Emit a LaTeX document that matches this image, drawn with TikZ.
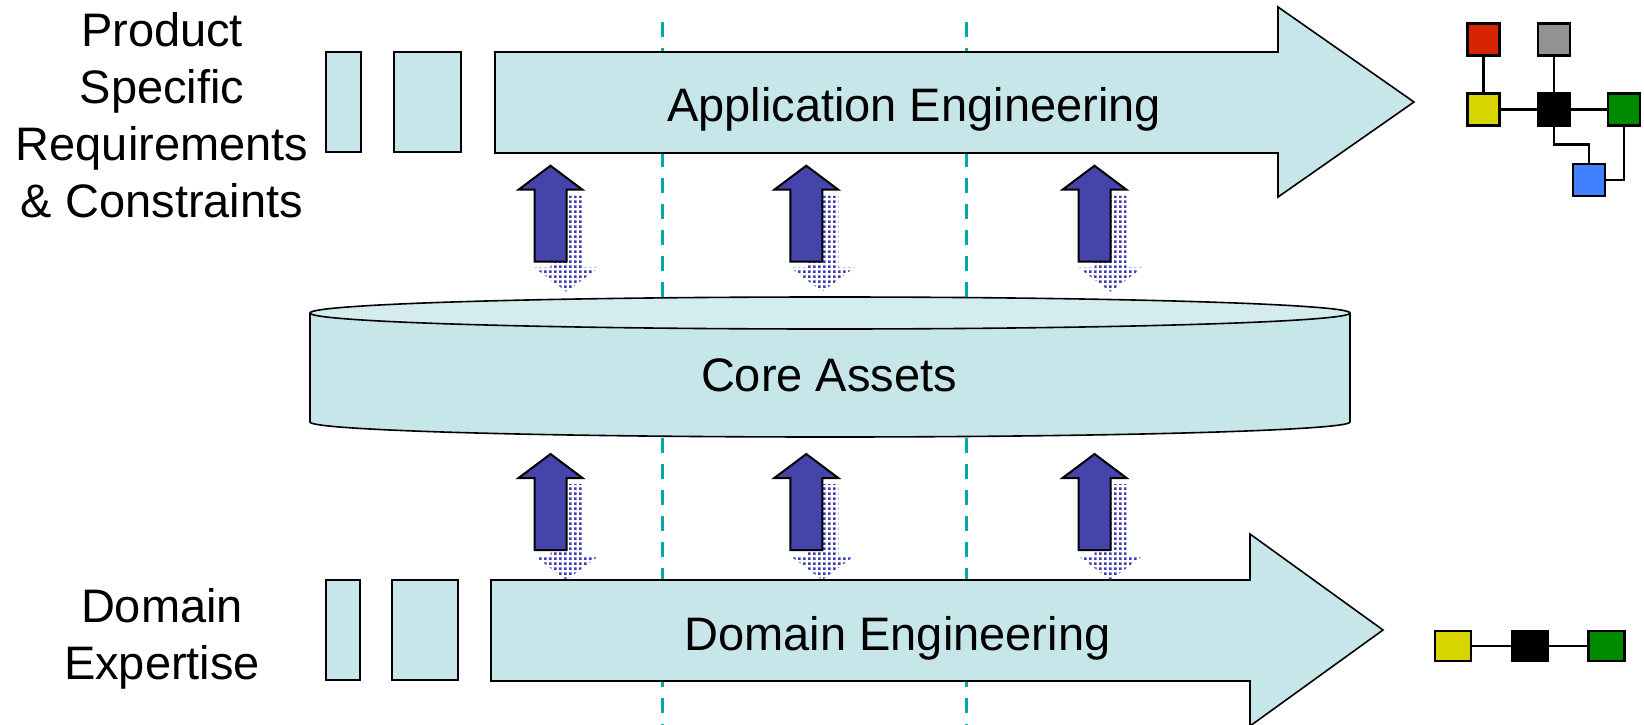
\documentclass[tikz,border=0pt]{standalone}
\usepackage{fontspec}
\setmainfont{Liberation Sans}
\usetikzlibrary{patterns}

% square-grid dot pattern for the ghosted return arrows
\pgfdeclarepatternformonly{bluedots}{\pgfqpoint{0pt}{0pt}}{\pgfqpoint{5.4pt}{5.4pt}}{\pgfqpoint{5.4pt}{5.4pt}}{%
  \pgfpathrectangle{\pgfqpoint{0pt}{0pt}}{\pgfqpoint{2.9pt}{2.9pt}}%
  \pgfusepath{fill}}

\definecolor{panel}{RGB}{199,230,233}
\definecolor{paneltop}{RGB}{212,236,238}
\definecolor{flowblue}{RGB}{68,68,170}
\definecolor{dotblue}{RGB}{62,62,182}
\definecolor{guide}{RGB}{0,168,170}
\definecolor{sqred}{RGB}{216,36,0}
\definecolor{sqgray}{RGB}{146,146,146}
\definecolor{sqyellow}{RGB}{216,212,0}
\definecolor{sqgreen}{RGB}{0,138,0}
\definecolor{sqblue}{RGB}{64,128,255}

\begin{document}
\begin{tikzpicture}[x=1pt,y=-1pt,
  panelshape/.style={fill=panel, draw=black, line width=1.6pt, line join=miter},
  guideline/.style={draw=guide, line width=3pt, dash pattern=on 15pt off 11pt},
  txt/.style={font=\fontsize{47}{57}\selectfont, inner sep=0pt},
  uparrow/.style={fill=flowblue, draw=black, line width=2pt, line join=miter},
  downghost/.style={pattern=bluedots, pattern color=dotblue},
  sq/.style={draw=black, line width=2.5pt, minimum size=32pt, inner sep=0pt},
  wsq/.style={draw=black, line width=2.5pt, minimum width=36pt, minimum height=30pt, inner sep=0pt},
  link/.style={draw=black, line width=2.5pt}]
\useasboundingbox (0,0) rectangle (1644,725);

% vertical guide lines
\draw[guideline] (662,22) -- (662,725);
\draw[guideline] (966,22) -- (966,725);

% core assets cylinder
\fill[panel] (310,313) -- (310,422) arc[start angle=180, end angle=360, x radius=520pt, y radius=15pt] -- (1350,313) -- cycle;
\draw[line width=1.6pt] (310,313) -- (310,422) arc[start angle=180, end angle=360, x radius=520pt, y radius=15pt] -- (1350,313);
\draw[line width=1.6pt, fill=paneltop] (830,313) ellipse [x radius=520pt, y radius=16pt];
\node[txt, anchor=base] (core) at (829,391) {Core Assets};

% application engineering arrow
\draw[panelshape] (326,52) rectangle (361,152);
\draw[panelshape] (394,52) rectangle (461,152);
\draw[panelshape] (495,52) -- (1278,52) -- (1278,7) -- (1414,102) -- (1278,197) -- (1278,153) -- (495,153) -- cycle;
\node[txt, anchor=base] (app) at (914,121.6) {Application Engineering};

% domain engineering arrow
\draw[panelshape] (326,580) rectangle (360,680);
\draw[panelshape] (392,580) rectangle (458,680);
\draw[panelshape] (491,580) -- (1250,580) -- (1250,534) -- (1383,630) -- (1250,726) -- (1250,681) -- (491,681) -- cycle;
\node[txt, anchor=base] (dom) at (897.5,650) {Domain Engineering};

% side captions (base anchor sits on the last line)
\node[txt, align=center, anchor=base] (psr) at (162,217) {Product\\Specific\\Requirements\\\& Constraints};
\node[txt, align=center, anchor=base] (de) at (162,679) {Domain\\Expertise};

% exchange arrows between the layers
\foreach \cx in {550.5,806.3,1094.5}{
  \foreach \ty in {165.7,454}{
    \begin{scope}[shift={(\cx,\ty)}]
      \fill[downghost] (16,126) -- (48,102) -- (32,102) -- (32,30) -- (0,30) -- (0,102) -- (-16,102) -- cycle;
      \draw[uparrow] (0,0) -- (32,24) -- (16,24) -- (16,96) -- (-16,96) -- (-16,24) -- (-32,24) -- cycle;
    \end{scope}
  }
}

% product configuration
\node[sq, fill=sqred]    (r)  at (1483.3,39.5) {};
\node[sq, fill=sqgray]   (g)  at (1554,39.5) {};
\node[sq, fill=sqyellow] (y)  at (1483.3,109.7) {};
\node[sq, fill=black]    (k)  at (1554,109.7) {};
\node[sq, fill=sqgreen]  (gr) at (1624.2,109.7) {};
\node[sq, fill=sqblue]   (b)  at (1589.2,180) {};
\draw[link] (r) -- (y);
\draw[link] (g) -- (k);
\draw[link] (y) -- (k);
\draw[link] (k) -- (gr);
\draw[link] (k.south) -- ++(0,17.5) -| (b.north);
\draw[link] (gr.south) |- (b.east);

% domain architecture
\node[wsq, fill=sqyellow] (dy) at (1453,645.8) {};
\node[wsq, fill=black]    (dk) at (1530,645.8) {};
\node[wsq, fill=sqgreen]  (dg) at (1606.7,645.8) {};
\draw[link] (dy) -- (dk);
\draw[link] (dk) -- (dg);
\end{tikzpicture}
\end{document}
